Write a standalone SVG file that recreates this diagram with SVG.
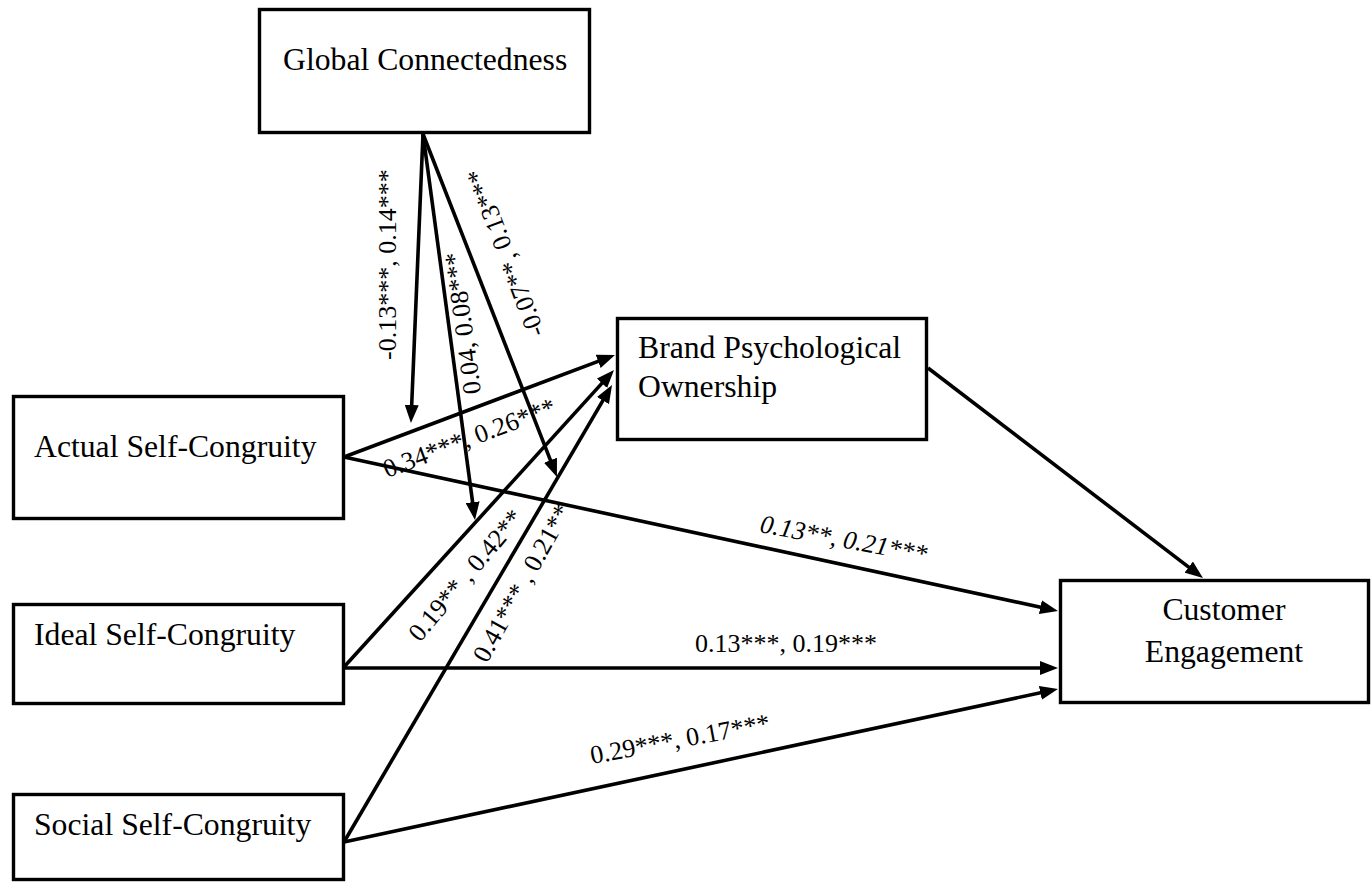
<svg xmlns="http://www.w3.org/2000/svg" width="1372" height="888" viewBox="0 0 1372 888">
<style>
.box{fill:#fff;stroke:#000;stroke-width:3.4}
.node{font-family:"Liberation Serif","Times New Roman",serif;font-size:31.7px;fill:#000}
.edge{fill:none;stroke:#000;stroke-width:3.6;marker-end:url(#ah)}
.lbl{font-family:"Liberation Serif","Times New Roman",serif;font-size:26px;fill:#000}
</style>
<defs>
<marker id="ah" viewBox="0 0 18 14" refX="12" refY="7" markerWidth="18" markerHeight="14" markerUnits="userSpaceOnUse" orient="auto">
<path d="M0,0 L18,7 L0,14 z" fill="#000"/>
</marker>
</defs>
<rect width="1372" height="888" fill="#fff"/>
<g id="connectors">
<line class="edge" x1="423" y1="134" x2="411.2" y2="417"/>
<line class="edge" x1="423" y1="134" x2="474.2" y2="514.1"/>
<line class="edge" x1="423" y1="134" x2="554.8" y2="471.4"/>
<line class="edge" x1="344" y1="457" x2="609.4" y2="357.1"/>
<line class="edge" x1="344" y1="457" x2="1052.1" y2="609.7"/>
<line class="edge" x1="344" y1="667" x2="610" y2="374.4"/>
<line class="edge" x1="344" y1="668" x2="1052" y2="668"/>
<line class="edge" x1="344" y1="842" x2="609" y2="390.2"/>
<line class="edge" x1="344" y1="842" x2="1052.1" y2="690.3"/>
<line class="edge" x1="928" y1="368" x2="1198.2" y2="574.4"/>
</g>
<g id="edge-labels">
<text class="lbl" transform="translate(396,360) rotate(-90)">-0.13***, 0.14***</text>
<text class="lbl" transform="translate(481,393) rotate(-97.7)">0.04, 0.08***</text>
<text class="lbl" transform="translate(545,333) rotate(-110.7)">-0.07**, 0.13***</text>
<text class="lbl" transform="translate(387,478) rotate(-20.6)">0.34***, 0.26***</text>
<text class="lbl" transform="translate(420,643) rotate(-50)">0.19** , 0.42**</text>
<text class="lbl" transform="translate(487,664) rotate(-61)">0.41*** , 0.21**</text>
<text class="lbl" font-style="italic" transform="translate(759,532) rotate(10.5)">0.13**, 0.21***</text>
<text class="lbl" x="695" y="652">0.13***, 0.19***</text>
<text class="lbl" transform="translate(592,764) rotate(-10.5)">0.29***, 0.17***</text>
</g>
<g id="global-connectedness">
<rect class="box" x="259.5" y="9.5" width="330" height="123"/>
<text class="node" x="283" y="70">Global Connectedness</text>
</g>
<g id="actual-self-congruity">
<rect class="box" x="13.5" y="396.5" width="330" height="122"/>
<text class="node" x="34" y="457">Actual Self-Congruity</text>
</g>
<g id="ideal-self-congruity">
<rect class="box" x="13.5" y="604.5" width="330" height="99"/>
<text class="node" x="34" y="645">Ideal Self-Congruity</text>
</g>
<g id="social-self-congruity">
<rect class="box" x="13.5" y="794.5" width="330" height="85"/>
<text class="node" x="34" y="835">Social Self-Congruity</text>
</g>
<g id="brand-psychological-ownership">
<rect class="box" x="617.5" y="318.5" width="309" height="121"/>
<text class="node" x="638" y="358">Brand Psychological</text>
<text class="node" x="638" y="397">Ownership</text>
</g>
<g id="customer-engagement">
<rect class="box" x="1060.5" y="580.5" width="308" height="122"/>
<text class="node" x="1224" y="620" text-anchor="middle">Customer</text>
<text class="node" x="1224" y="662" text-anchor="middle">Engagement</text>
</g>
</svg>
